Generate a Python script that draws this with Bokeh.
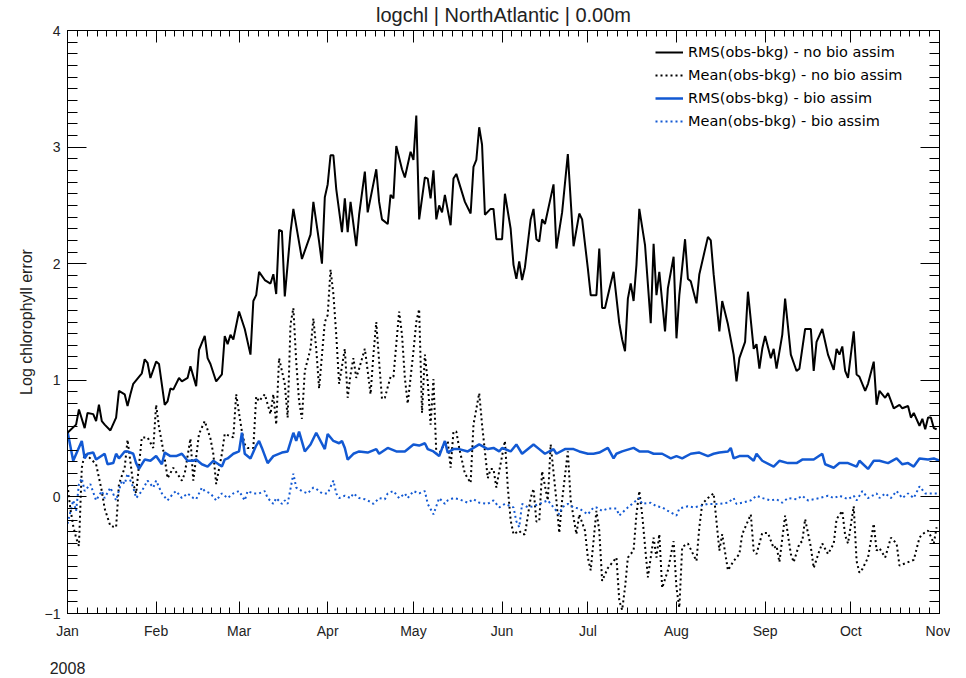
from bokeh.plotting import figure
from bokeh.models import (FixedTicker, LinearAxis, Range1d, Legend, LegendItem, Title,
                          CustomLabelingPolicy)
from bokeh.embed import file_html
from bokeh.resources import INLINE

# ---------------- data ----------------
month_labels = ["Jan", "Feb", "Mar", "Apr", "May", "Jun", "Jul", "Aug", "Sep", "Oct", "Nov"]
month_start_days = [0, 31, 60, 91, 121, 152, 182, 213, 244, 274, 305]
year_tick_day = [0]
year_labels = ["2008"]
y_tick_values = [-1, 0, 1, 2, 3, 4]
y_tick_labels = ["\u22121", "0", "1", "2", "3", "4"]

# RMS(obs-bkg) - no bio assim (day of year 2008, value)
rms_nobio_day = [0, 3, 4, 6, 7, 9, 10, 11, 12, 13, 15, 17, 18, 20, 21, 22, 23, 26, 27, 28, 29, 31, 32, 34, 35, 36, 37, 39, 40, 42,
                 43, 45, 46, 47, 48, 49, 50, 52, 54, 55, 56, 57, 58, 60, 62, 64, 65, 66, 67, 69, 71, 72, 73, 74, 75, 76, 78, 79, 82, 85,
                 86, 88, 89, 90, 91, 92, 93, 94, 96, 97, 98, 99, 101, 102, 104, 105, 108, 109, 110, 112, 113, 114, 115, 117, 118, 120, 121, 122, 123, 125,
                 126, 127, 128, 129, 130, 131, 132, 134, 135, 136, 139, 141, 142, 143, 144, 145, 146, 148, 149, 150, 152, 153, 155, 156, 157, 158, 159, 160, 162, 163,
                 164, 165, 166, 167, 170, 171, 173, 175, 177, 179, 180, 182, 183, 185, 186, 187, 188, 190, 191, 193, 194, 195, 196, 197, 198, 199, 200, 202, 204, 205,
                 206, 207, 209, 210, 212, 213, 214, 216, 217, 218, 220, 221, 224, 225, 226, 228, 229, 231, 233, 234, 235, 237, 238, 240, 241, 242, 243, 244, 246, 247,
                 248, 250, 251, 253, 255, 256, 258, 260, 261, 262, 264, 265, 266, 268, 269, 270, 271, 272, 273, 274, 275, 276, 277, 279, 280, 282, 283, 284, 286, 287,
                 289, 291, 292, 294, 295, 296, 298, 299, 300, 301, 302, 303, 304]
rms_nobio_val = [0.55, 0.62, 0.75, 0.59, 0.72, 0.71, 0.65, 0.79, 0.65, 0.62, 0.57, 0.68, 0.91, 0.88, 0.78, 0.88, 0.97, 1.06, 1.18, 1.15, 1.02, 1.16, 1.14, 0.79, 0.82, 0.93, 0.92, 1.02, 0.99, 1.02,
                 1.12, 0.95, 1.26, 1.32, 1.38, 1.19, 1.14, 0.99, 1.05, 1.38, 1.31, 1.39, 1.35, 1.59, 1.44, 1.22, 1.68, 1.73, 1.93, 1.86, 1.83, 1.91, 1.74, 2.29, 2.28, 1.72, 2.27, 2.47, 2.04, 2.25,
                 2.53, 2.19, 2.00, 2.57, 2.68, 2.93, 2.93, 2.64, 2.27, 2.56, 2.27, 2.53, 2.15, 2.42, 2.79, 2.44, 2.81, 2.53, 2.38, 2.34, 2.59, 2.56, 3.01, 2.81, 2.74, 2.96, 2.89, 3.27, 2.38, 2.74,
                 2.73, 2.56, 2.80, 2.38, 2.50, 2.44, 2.59, 2.33, 2.73, 2.77, 2.53, 2.43, 2.83, 2.89, 3.17, 3.02, 2.42, 2.47, 2.47, 2.21, 2.21, 2.60, 2.30, 1.99, 1.87, 2.02, 1.86, 1.97, 2.38, 2.47,
                 2.21, 2.19, 2.38, 2.34, 2.68, 2.13, 2.44, 2.94, 2.15, 2.43, 2.38, 1.96, 1.73, 1.73, 2.13, 1.62, 1.62, 1.83, 1.93, 1.49, 1.35, 1.25, 1.70, 1.83, 1.68, 1.99, 2.47, 2.16, 1.49, 2.17,
                 1.73, 1.93, 1.42, 1.79, 2.06, 1.36, 1.73, 2.21, 1.87, 1.85, 1.66, 1.91, 2.23, 2.20, 1.91, 1.42, 1.68, 1.48, 1.22, 0.99, 1.19, 1.33, 1.76, 1.27, 1.31, 1.10, 1.27, 1.38, 1.19, 1.27,
                 1.10, 1.39, 1.70, 1.22, 1.08, 1.10, 1.44, 1.44, 1.08, 1.33, 1.44, 1.33, 1.22, 1.09, 1.27, 1.22, 1.29, 1.08, 1.02, 1.22, 1.42, 1.05, 1.03, 0.91, 0.97, 1.16, 0.79, 0.91, 0.85, 0.89,
                 0.76, 0.79, 0.76, 0.78, 0.68, 0.72, 0.61, 0.67, 0.58, 0.68, 0.68, 0.59, 0.58]

# Mean(obs-bkg) - no bio assim
mean_nobio_day = [0, 1, 2, 3, 4, 5, 6, 8, 10, 12, 13, 15, 17, 18, 20, 21, 23, 24, 26, 28, 30, 31, 32, 34, 35, 37, 40, 41, 43, 44,
                  46, 48, 50, 51, 52, 54, 55, 58, 59, 61, 62, 63, 65, 66, 67, 69, 71, 72, 73, 74, 76, 77, 78, 79, 80, 81, 82, 83, 85, 86,
                  87, 88, 90, 91, 92, 93, 94, 95, 97, 98, 99, 100, 101, 102, 104, 105, 106, 107, 108, 109, 110, 111, 113, 114, 116, 117, 118, 119, 121, 122,
                  123, 124, 125, 126, 127, 128, 129, 130, 131, 133, 134, 135, 136, 137, 139, 141, 142, 144, 145, 147, 148, 149, 150, 151, 153, 154, 155, 156, 158, 159,
                  160, 162, 163, 164, 165, 166, 168, 169, 171, 172, 173, 175, 176, 178, 179, 181, 182, 183, 185, 186, 187, 189, 191, 192, 193, 194, 195, 196, 198, 199,
                  200, 201, 203, 205, 206, 207, 208, 210, 212, 213, 214, 215, 217, 219, 220, 221, 222, 224, 226, 227, 228, 229, 231, 233, 235, 236, 239, 240, 241, 243,
                  245, 247, 248, 249, 251, 253, 254, 256, 257, 258, 260, 261, 263, 264, 266, 268, 269, 271, 272, 273, 275, 276, 277, 278, 280, 282, 283, 284, 286, 288,
                  290, 291, 293, 295, 296, 298, 299, 301, 302, 303, 304]
mean_nobio_val = [0.10, -0.10, -0.25, -0.35, -0.42, 0.25, 0.37, 0.33, 0.28, 0.05, -0.10, -0.25, -0.26, 0.11, 0.25, 0.49, 0.11, 0.03, 0.51, 0.51, 0.42, 0.79, 0.60, 0.33, 0.16, 0.25, 0.14, 0.20, 0.50, 0.14,
                  0.54, 0.65, 0.50, 0.37, 0.11, 0.37, 0.54, 0.51, 0.88, 0.56, 0.45, 0.42, 0.42, 0.86, 0.82, 0.88, 0.71, 0.88, 0.62, 1.19, 0.97, 0.68, 1.48, 1.62, 1.16, 0.82, 0.67, 1.08, 1.27, 1.53,
                  1.27, 0.93, 1.50, 1.56, 1.95, 1.74, 1.39, 0.97, 1.27, 0.85, 1.05, 1.19, 1.02, 1.10, 1.27, 1.08, 0.88, 1.22, 1.50, 1.16, 0.84, 0.85, 1.03, 1.03, 1.59, 1.39, 1.02, 0.80, 1.25, 1.50,
                  1.61, 0.72, 1.22, 0.99, 0.62, 1.01, 0.37, 0.37, 0.42, 0.48, 0.25, 0.56, 0.56, 0.42, 0.20, 0.12, 0.62, 0.89, 0.62, 0.16, 0.24, 0.24, 0.08, 0.22, 0.48, 0.08, -0.20, -0.32, -0.29, -0.32,
                  -0.32, -0.01, 0.07, -0.21, -0.21, 0.22, -0.03, 0.45, -0.03, -0.31, -0.03, 0.39, -0.03, -0.32, -0.15, -0.29, -0.52, -0.63, -0.12, -0.29, -0.72, -0.61, -0.55, -0.52, -0.89, -0.97, -0.78, -0.52, -0.46, -0.15,
                  0.05, -0.15, -0.69, -0.35, -0.52, -0.32, -0.78, -0.63, -0.38, -0.78, -0.95, -0.43, -0.40, -0.50, -0.55, -0.26, -0.06, -0.01, 0.03, -0.21, -0.46, -0.32, -0.63, -0.55, -0.49, -0.32, -0.15, -0.46, -0.49, -0.31,
                  -0.31, -0.44, -0.42, -0.56, -0.16, -0.49, -0.56, -0.40, -0.38, -0.19, -0.43, -0.61, -0.46, -0.40, -0.49, -0.40, -0.19, -0.12, -0.33, -0.40, -0.08, -0.55, -0.65, -0.62, -0.52, -0.23, -0.46, -0.44, -0.52, -0.35,
                  -0.40, -0.59, -0.57, -0.55, -0.54, -0.35, -0.32, -0.29, -0.34, -0.40, -0.26]

# RMS(obs-bkg) - bio assim
rms_bio_day = [0, 2, 5, 6, 7, 9, 10, 13, 14, 16, 17, 18, 20, 21, 23, 24, 25, 27, 29, 31, 33, 34, 36, 38, 40, 42, 44, 45, 47, 49,
               51, 54, 55, 56, 58, 60, 61, 62, 64, 66, 67, 68, 70, 72, 75, 77, 79, 80, 81, 83, 85, 87, 90, 91, 93, 95, 96, 97, 98, 100,
               102, 105, 108, 109, 112, 115, 118, 121, 123, 125, 126, 128, 130, 132, 133, 135, 137, 140, 142, 144, 147, 149, 151, 152, 155, 157, 159, 163, 165, 167,
               170, 171, 174, 177, 179, 182, 184, 186, 189, 191, 192, 194, 198, 200, 203, 205, 208, 211, 213, 215, 218, 221, 224, 226, 228, 231, 232, 233, 235, 238,
               240, 241, 243, 247, 249, 252, 255, 257, 261, 264, 265, 268, 270, 273, 276, 277, 280, 282, 284, 287, 290, 292, 294, 296, 298, 301, 303, 305]
rms_bio_val = [0.56, 0.31, 0.48, 0.33, 0.37, 0.38, 0.32, 0.37, 0.28, 0.29, 0.37, 0.33, 0.39, 0.39, 0.37, 0.29, 0.24, 0.32, 0.31, 0.35, 0.28, 0.38, 0.35, 0.35, 0.37, 0.31, 0.31, 0.32, 0.28, 0.26,
               0.31, 0.26, 0.32, 0.33, 0.37, 0.39, 0.55, 0.37, 0.33, 0.44, 0.48, 0.42, 0.29, 0.35, 0.38, 0.39, 0.55, 0.48, 0.56, 0.39, 0.45, 0.55, 0.41, 0.54, 0.48, 0.46, 0.48, 0.42, 0.32, 0.37,
               0.39, 0.38, 0.41, 0.37, 0.42, 0.39, 0.39, 0.45, 0.44, 0.46, 0.41, 0.39, 0.35, 0.48, 0.38, 0.41, 0.41, 0.39, 0.42, 0.45, 0.41, 0.42, 0.39, 0.42, 0.39, 0.45, 0.37, 0.45, 0.41, 0.37,
               0.41, 0.37, 0.41, 0.41, 0.39, 0.37, 0.37, 0.38, 0.42, 0.33, 0.37, 0.39, 0.42, 0.39, 0.39, 0.37, 0.37, 0.33, 0.35, 0.33, 0.37, 0.38, 0.35, 0.37, 0.38, 0.39, 0.42, 0.33, 0.35, 0.35,
               0.31, 0.37, 0.31, 0.26, 0.31, 0.29, 0.29, 0.32, 0.32, 0.37, 0.28, 0.25, 0.29, 0.29, 0.26, 0.31, 0.24, 0.31, 0.31, 0.29, 0.33, 0.28, 0.29, 0.26, 0.33, 0.32, 0.33, 0.31]

# Mean(obs-bkg) - bio assim
mean_bio_day = [0, 2, 3, 4, 5, 6, 8, 10, 12, 13, 15, 17, 19, 20, 21, 23, 24, 26, 28, 30, 31, 33, 35, 37, 38, 40, 42, 44, 45, 47,
                48, 50, 52, 54, 56, 58, 60, 62, 63, 65, 67, 69, 70, 72, 73, 75, 76, 77, 79, 80, 82, 84, 86, 87, 89, 91, 93, 94, 95, 97,
                99, 100, 102, 104, 105, 107, 109, 111, 112, 114, 116, 118, 119, 121, 123, 125, 126, 128, 130, 132, 133, 135, 137, 140, 142, 144, 147, 149, 151, 153,
                156, 157, 158, 159, 161, 163, 165, 168, 170, 172, 173, 175, 177, 179, 182, 184, 185, 187, 189, 192, 193, 196, 198, 200, 201, 204, 206, 208, 210, 213,
                214, 217, 219, 221, 224, 226, 228, 231, 233, 234, 236, 239, 241, 243, 246, 248, 250, 252, 255, 257, 259, 261, 263, 266, 268, 270, 273, 275, 276, 278,
                280, 283, 284, 286, 288, 290, 292, 294, 296, 298, 300, 302, 304, 305]
mean_bio_val = [-0.23, -0.03, -0.12, 0.11, 0.16, 0.05, 0.11, -0.03, 0.05, -0.01, 0.08, -0.03, 0.14, 0.11, 0.20, 0.08, -0.01, 0.05, 0.14, 0.08, 0.14, 0.03, -0.03, 0.03, 0.05, -0.01, 0.03, -0.01, -0.02, 0.08,
                0.05, 0.03, -0.03, 0.03, -0.01, 0.03, 0.05, -0.03, 0.05, 0.03, 0.03, 0.05, -0.01, -0.06, -0.01, -0.06, -0.03, -0.06, 0.20, 0.08, 0.05, 0.03, 0.08, 0.07, 0.03, 0.03, 0.14, 0.03, -0.01, 0.01,
                -0.01, 0.03, -0.01, -0.02, -0.03, -0.06, -0.01, -0.02, 0.03, 0.05, -0.01, 0.03, -0.01, 0.05, 0.03, 0.05, -0.06, -0.15, -0.01, -0.06, -0.03, -0.01, -0.02, -0.05, -0.02, -0.05, -0.06, -0.03, -0.09, -0.06,
                -0.09, -0.21, -0.26, -0.06, -0.09, -0.08, -0.06, -0.03, -0.09, -0.15, -0.09, -0.06, -0.09, -0.10, -0.15, -0.09, -0.09, -0.12, -0.10, -0.10, -0.16, -0.09, -0.05, -0.01, -0.06, -0.05, -0.08, -0.09, -0.12, -0.16,
                -0.10, -0.08, -0.09, -0.08, -0.06, -0.06, -0.06, -0.05, -0.01, -0.06, -0.05, -0.03, 0.01, -0.01, -0.03, -0.02, -0.05, -0.01, -0.02, 0.01, -0.03, -0.02, -0.01, 0.01, -0.01, 0.01, -0.02, 0.01, -0.03, 0.05,
                -0.01, 0.03, -0.01, 0.03, -0.01, 0.05, -0.01, 0.03, -0.01, 0.09, 0.03, 0.03, 0.03, 0.03]

series_labels = ["RMS(obs-bkg) - no bio assim", "Mean(obs-bkg) - no bio assim",
                 "RMS(obs-bkg) - bio assim", "Mean(obs-bkg) - bio assim"]
title_text = "logchl | NorthAtlantic | 0.00m"
y_axis_title = "Log chlorophyll error"

assert len(rms_nobio_day) == len(rms_nobio_val)
assert len(mean_nobio_day) == len(mean_nobio_val)
assert len(rms_bio_day) == len(rms_bio_val)
assert len(mean_bio_day) == len(mean_bio_val)

# ---------------- figure ----------------
BLUE = "#1259d3"
TICK_FONT = "Liberation Sans"
TEXT_COLOR = "#222222"

p = figure(width=950, height=677, x_range=Range1d(0, 305), y_range=Range1d(-1, 4),
           output_backend="svg", toolbar_location=None,
           min_border_left=67, min_border_right=11, min_border_top=28, min_border_bottom=64)
p.xgrid.visible = False
p.ygrid.visible = False
p.outline_line_color = "black"
p.outline_line_width = 1
p.background_fill_color = "white"
p.border_fill_color = "white"

# title on top
p.title = Title(text=title_text, align="center", text_font=TICK_FONT, text_font_size="20px",
                text_font_style="normal", text_color=TEXT_COLOR, standoff=2)

# minor tick positions: each month split in 9 equal parts, y every 0.1
x_minor = []
for a, b in zip(month_start_days[:-1], month_start_days[1:]):
    x_minor += [a + k * (b - a) / 9.0 for k in range(1, 9)]
y_minor = [i / 10.0 for i in range(-10, 41) if i % 10 != 0]

x_ticker = FixedTicker(ticks=month_start_days, minor_ticks=x_minor)
y_ticker = FixedTicker(ticks=y_tick_values, minor_ticks=y_minor)


def style_axis(ax, ticker, major_in, minor_in):
    ax.ticker = ticker
    ax.major_tick_in = major_in
    ax.major_tick_out = 0
    ax.minor_tick_in = minor_in
    ax.minor_tick_out = 0
    ax.axis_line_color = "black"
    ax.major_tick_line_color = "black"
    ax.minor_tick_line_color = "black"
    ax.major_label_text_font = TICK_FONT
    ax.major_label_text_font_size = "14px"
    ax.major_label_text_color = TEXT_COLOR


xb = p.xaxis[0]
style_axis(xb, x_ticker, 12, 6)
xb.major_label_overrides = {d: m for d, m in zip(month_start_days, month_labels)}
xb.major_label_standoff = 9

# second level of date labels (year), centred on the first tick
xy = LinearAxis(ticker=FixedTicker(ticks=year_tick_day, minor_ticks=[]))
xy.major_label_overrides = {d: t for d, t in zip(year_tick_day, year_labels)}
xy.axis_line_color = None
xy.major_tick_line_color = None
xy.minor_tick_line_color = None
xy.major_tick_in = 0
xy.major_tick_out = 0
xy.major_label_standoff = 20
xy.major_label_text_font = TICK_FONT
xy.major_label_text_font_size = "16px"
xy.major_label_text_color = TEXT_COLOR
p.add_layout(xy, "below")

yl = p.yaxis[0]
style_axis(yl, y_ticker, 19, 10)
yl.major_label_overrides = {v: t for v, t in zip(y_tick_values, y_tick_labels)}
yl.major_label_standoff = 7
yl.axis_label = y_axis_title
yl.axis_label_text_font = TICK_FONT
yl.axis_label_text_font_size = "16px"
yl.axis_label_text_font_style = "normal"
yl.axis_label_text_color = TEXT_COLOR
yl.axis_label_standoff = 7

# mirrored axes (ticks only) on top and right
xt = LinearAxis()
style_axis(xt, x_ticker, 12, 6)
xt.major_label_policy = CustomLabelingPolicy(code="return new Set()")
xt.major_label_text_font_size = "1px"
xt.major_label_standoff = 0
p.add_layout(xt, "above")

yr = LinearAxis()
style_axis(yr, y_ticker, 19, 10)
yr.major_label_policy = CustomLabelingPolicy(code="return new Set()")
yr.major_label_text_font_size = "1px"
yr.major_label_standoff = 0
p.add_layout(yr, "right")

r_mean_nobio = p.line(mean_nobio_day, mean_nobio_val, line_color="black", line_width=2, line_dash="2 3")
r_mean_bio = p.line(mean_bio_day, mean_bio_val, line_color=BLUE, line_width=2, line_dash="2 3")
r_rms_bio = p.line(rms_bio_day, rms_bio_val, line_color=BLUE, line_width=2.5)
r_rms_nobio = p.line(rms_nobio_day, rms_nobio_val, line_color="black", line_width=2)

legend = Legend(items=[LegendItem(label=series_labels[0], renderers=[r_rms_nobio]),
                       LegendItem(label=series_labels[1], renderers=[r_mean_nobio]),
                       LegendItem(label=series_labels[2], renderers=[r_rms_bio]),
                       LegendItem(label=series_labels[3], renderers=[r_mean_bio])],
                location=(583, 477), glyph_width=28, glyph_height=20, label_height=20,
                spacing=3, padding=5, margin=0, label_standoff=5,
                background_fill_alpha=0, border_line_alpha=0,
                label_text_font="DejaVu Sans", label_text_font_size="14.5px",
                label_text_color="black")
p.add_layout(legend)

open("out.html", "w").write(file_html(p, INLINE))
